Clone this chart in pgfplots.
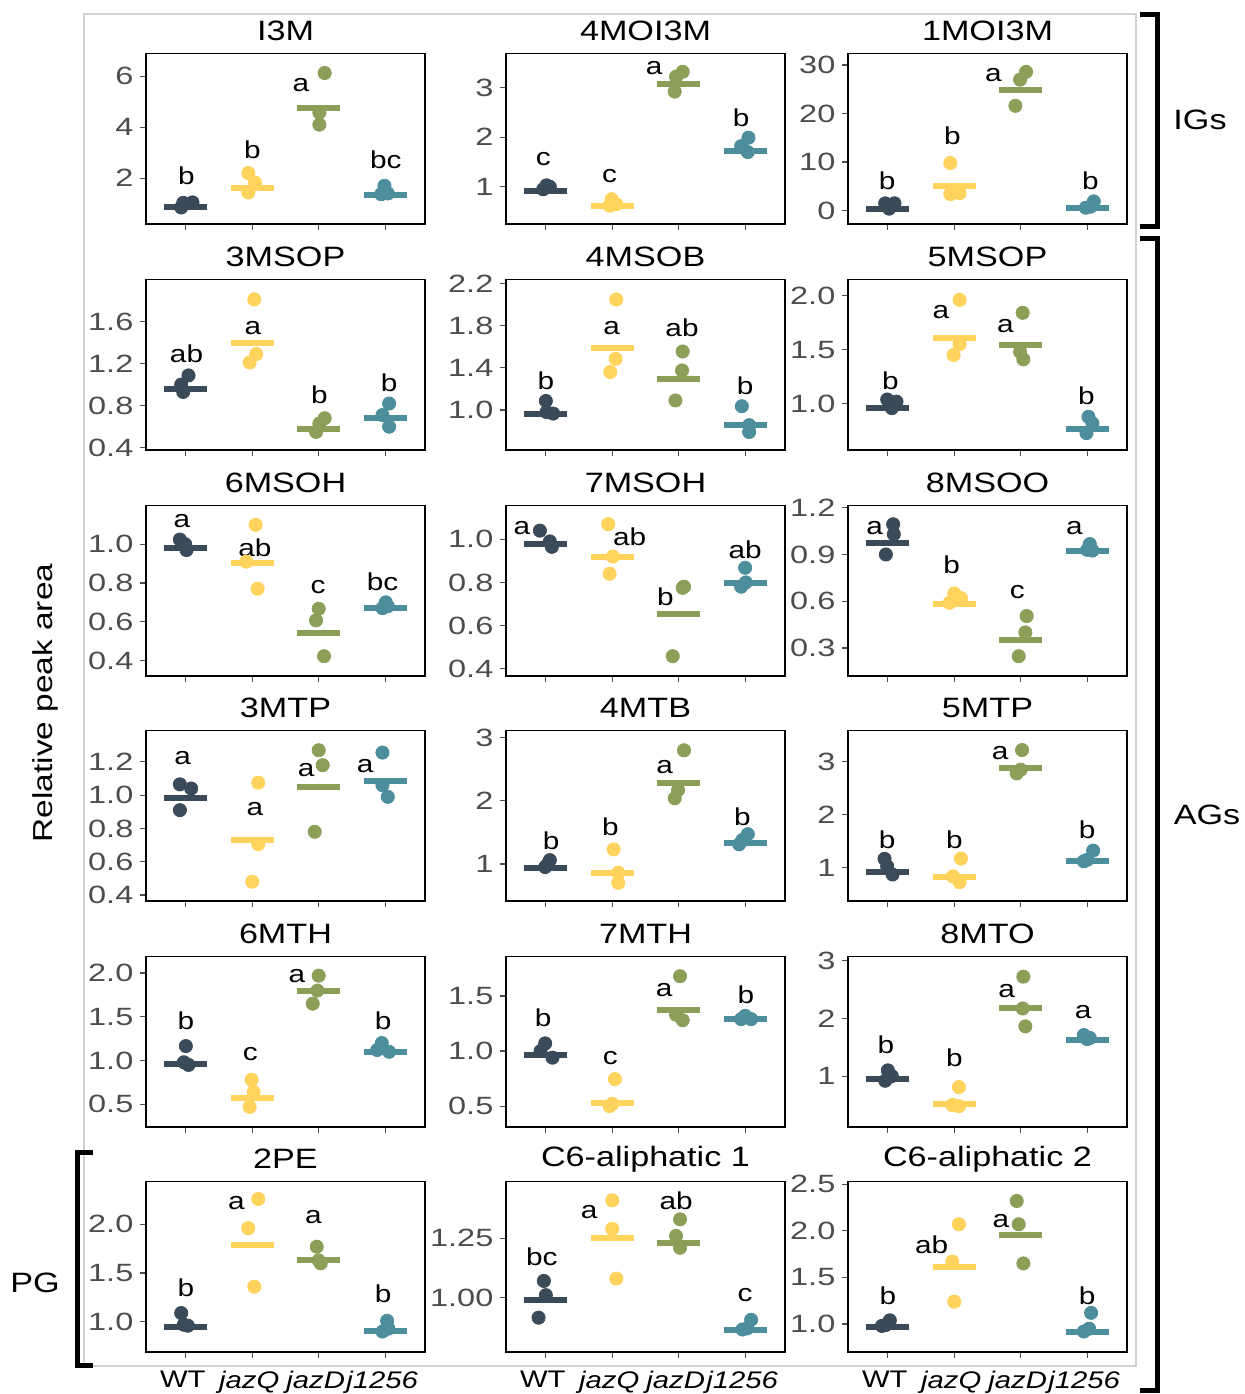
\documentclass[border=0pt]{standalone}
\usepackage{fontspec}
\setmainfont{Liberation Sans}[FakeStretch=1.22]
\newfontfamily\tickfont{Liberation Sans}[FakeStretch=1.3]
\usepackage{pgfplots}
\pgfplotsset{compat=1.18}
\definecolor{cWT}{HTML}{3A4A58}
\definecolor{cQ}{HTML}{FFD35C}
\definecolor{cD}{HTML}{8C9F58}
\definecolor{cJ}{HTML}{4D8E9C}
\definecolor{tickgray}{HTML}{4D4D4D}
\definecolor{framegray}{HTML}{D2D2D2}

\newcommand{\grp}[7]{%
  \addplot[only marks, mark=*, mark size=3.3pt, color=#1] coordinates {#3};
  \addplot[only marks, mark=-, mark size=10.7pt, color=#1, mark options={line width=3pt}] coordinates {(#2,#4)};
  \node[font=\fontsize{12.2}{12.2}\selectfont, inner sep=0pt] at (axis cs:#5,#6) {#7};
}

\pgfplotsset{
  panel/.style={
    scale only axis, width=139.5pt, height=85.3pt, anchor=south west,
    xmin=0.4, xmax=4.6, xtick={1,2,3,4}, xticklabels={,,,},
    axis line style={line width=0.8pt, black},
    tick align=outside, tick pos=left,
    major tick length=2.8pt,
    every tick/.style={line width=0.6pt, tickgray},
    yticklabel style={font=\tickfont\fontsize{12.5}{12.5}\selectfont, text=tickgray},
    /pgf/number format/assume math mode=true,
    clip=false,
    title style={font=\fontsize{14}{14}\selectfont, at={(0.5,1)}, anchor=center, yshift=5.3pt, fill=white, inner xsep=6pt, inner ysep=1pt},
  },
  d1/.style={yticklabel style={/pgf/number format/fixed, /pgf/number format/fixed zerofill, /pgf/number format/precision=1}},
  d2/.style={yticklabel style={/pgf/number format/fixed, /pgf/number format/fixed zerofill, /pgf/number format/precision=2}},
  bottomrow/.style={xticklabels={WT,\textit{jazQ},\textit{jazD},\textit{j1256}}, xticklabel style={font=\fontsize{12}{12}\selectfont, text=black, yshift=-3pt, xshift=-1.5pt}},
}

\begin{document}
\begin{tikzpicture}
\useasboundingbox (0pt,0pt) rectangle (622pt,-697pt);
\draw[framegray, line width=0.6pt] (42pt,-7pt) rectangle (568pt,-683pt);

% ---------- Row 1 ----------
\begin{axis}[panel, at={(73pt,-112pt)}, ymin=0.2, ymax=6.9, ytick={2,4,6}, title={I3M}]
\grp{cWT}{1}{(0.93,0.85)(0.96,1.03)(1.1,1.05)}{0.87}{1.01}{2.09}{b}
\grp{cQ}{2}{(1.94,2.2)(2.04,1.83)(1.94,1.44)}{1.63}{2.0}{3.13}{b}
\grp{cD}{3}{(3.09,6.13)(3.01,4.57)(3.01,4.1)}{4.76}{2.73}{5.67}{a}
\grp{cJ}{4}{(3.99,1.7)(3.94,1.37)(4.04,1.4)}{1.33}{4.01}{2.74}{bc}
\end{axis}

\begin{axis}[panel, at={(253pt,-112pt)}, ymin=0.25, ymax=3.69, ytick={1,2,3}, title={4MOI3M}]
\grp{cWT}{1}{(1.01,1.03)(1.06,1.0)(0.96,0.95)}{0.92}{0.96}{1.55}{c}
\grp{cQ}{2}{(1.99,0.75)(2.06,0.65)(1.96,0.62)}{0.61}{1.96}{1.22}{c}
\grp{cD}{3}{(3.06,3.32)(2.96,3.22)(2.94,2.92)}{3.07}{2.63}{3.39}{a}
\grp{cJ}{4}{(4.05,1.99)(3.94,1.82)(4.04,1.7)}{1.73}{3.94}{2.39}{b}
\end{axis}

\begin{axis}[panel, at={(424pt,-112pt)}, ymin=-2.76, ymax=32.4, ytick={0,10,20,30}, title={1MOI3M}]
\grp{cWT}{1}{(0.96,1.5)(1.1,1.5)(1.02,0.4)}{0.3}{0.99}{6.2}{b}
\grp{cQ}{2}{(1.94,9.8)(1.94,3.4)(2.08,3.6)}{5.0}{1.97}{15.5}{b}
\grp{cD}{3}{(3.08,28.6)(2.99,27.0)(2.92,21.6)}{24.8}{2.59}{27.9}{a}
\grp{cJ}{4}{(4.1,1.9)(4.05,0.8)(3.98,0.6)}{0.55}{4.05}{6.2}{b}
\end{axis}

% ---------- Row 2 ----------
\begin{axis}[panel, d1, at={(73pt,-225pt)}, ymin=0.378, ymax=2.0, ytick={0.4,0.8,1.2,1.6}, title={3MSOP}]
\grp{cWT}{1}{(1.04,1.087)(0.93,1.0)(0.96,0.93)}{0.96}{1.01}{1.29}{ab}
\grp{cQ}{2}{(2.03,1.81)(2.06,1.29)(1.96,1.21)}{1.395}{2.01}{1.54}{a}
\grp{cD}{3}{(3.09,0.68)(3.01,0.63)(2.96,0.55)}{0.58}{3.01}{0.90}{b}
\grp{cJ}{4}{(4.06,0.82)(3.96,0.71)(4.06,0.60)}{0.68}{4.06}{1.02}{b}
\end{axis}

\begin{axis}[panel, d1, at={(253pt,-225pt)}, ymin=0.619, ymax=2.24, ytick={1.0,1.4,1.8,2.2}, title={4MSOB}]
\grp{cWT}{1}{(1.0,1.085)(1.11,0.965)(1.01,0.98)}{0.96}{1.0}{1.28}{b}
\grp{cQ}{2}{(2.06,2.05)(2.05,1.485)(1.97,1.36)}{1.59}{1.99}{1.78}{a}
\grp{cD}{3}{(3.06,1.555)(3.05,1.375)(2.95,1.09)}{1.29}{3.05}{1.78}{ab}
\grp{cJ}{4}{(3.95,1.035)(4.06,0.855)(4.06,0.79)}{0.855}{4.0}{1.23}{b}
\end{axis}

\begin{axis}[panel, d1, at={(424pt,-225pt)}, ymin=0.574, ymax=2.148, ytick={1.0,1.5,2.0}, title={5MSOP}]
\grp{cWT}{1}{(0.99,1.04)(1.13,1.02)(1.06,0.96)}{0.96}{1.04}{1.21}{b}
\grp{cQ}{2}{(2.08,1.96)(2.08,1.55)(1.99,1.45)}{1.61}{1.8}{1.85}{a}
\grp{cD}{3}{(3.03,1.84)(2.99,1.48)(3.04,1.41)}{1.54}{2.77}{1.72}{a}
\grp{cJ}{4}{(4.02,0.88)(4.08,0.82)(3.99,0.73)}{0.77}{3.99}{1.07}{b}
\end{axis}

% ---------- Row 3 ----------
\begin{axis}[panel, d1, at={(73pt,-338pt)}, ymin=0.32, ymax=1.2, ytick={0.4,0.6,0.8,1.0}, title={6MSOH}]
\grp{cWT}{1}{(0.91,1.024)(0.99,1.0)(1.01,0.97)}{0.98}{0.94}{1.12}{a}
\grp{cQ}{2}{(2.05,1.10)(1.91,0.91)(2.08,0.77)}{0.905}{2.04}{0.98}{ab}
\grp{cD}{3}{(3.0,0.667)(2.96,0.607)(3.08,0.422)}{0.542}{2.99}{0.78}{c}
\grp{cJ}{4}{(4.01,0.70)(3.96,0.67)(4.04,0.68)}{0.67}{3.96}{0.807}{bc}
\end{axis}

\begin{axis}[panel, d1, at={(253pt,-338pt)}, ymin=0.366, ymax=1.157, ytick={0.4,0.6,0.8,1.0}, title={7MSOH}]
\grp{cWT}{1}{(0.91,1.04)(1.09,0.965)(1.06,0.99)}{0.98}{0.64}{1.05}{a}
\grp{cQ}{2}{(1.94,1.07)(2.01,0.92)(1.96,0.84)}{0.92}{2.26}{1.01}{ab}
\grp{cD}{3}{(3.08,0.78)(3.06,0.775)(2.91,0.458)}{0.655}{2.8}{0.735}{b}
\grp{cJ}{4}{(4.0,0.868)(3.94,0.78)(4.01,0.80)}{0.796}{4.0}{0.95}{ab}
\end{axis}

\begin{axis}[panel, d1, at={(424pt,-338pt)}, ymin=0.12, ymax=1.215, ytick={0.3,0.6,0.9,1.2}, title={8MSOO}]
\grp{cWT}{1}{(1.08,1.094)(1.09,1.03)(0.97,0.90)}{0.975}{0.8}{1.07}{a}
\grp{cQ}{2}{(2.0,0.65)(2.1,0.62)(1.93,0.59)}{0.585}{1.96}{0.835}{b}
\grp{cD}{3}{(3.09,0.505)(3.07,0.40)(2.97,0.247)}{0.35}{2.95}{0.66}{c}
\grp{cJ}{4}{(4.04,0.967)(4.08,0.925)(4.0,0.93)}{0.92}{3.81}{1.07}{a}
\end{axis}

% ---------- Row 4 ----------
\begin{axis}[panel, d1, at={(73pt,-450.5pt)}, ymin=0.364, ymax=1.389, ytick={0.4,0.6,0.8,1.0,1.2}, title={3MTP}]
\grp{cWT}{1}{(0.91,1.065)(1.08,1.04)(0.91,0.91)}{0.98}{0.95}{1.22}{a}
\grp{cQ}{2}{(2.09,1.075)(2.09,0.706)(2.0,0.48)}{0.73}{2.04}{0.917}{a}
\grp{cD}{3}{(3.0,1.27)(3.06,1.18)(2.94,0.78)}{1.05}{2.81}{1.15}{a}
\grp{cJ}{4}{(3.96,1.256)(3.96,1.06)(4.04,0.99)}{1.085}{3.7}{1.176}{a}
\end{axis}

\begin{axis}[panel, at={(253pt,-450.5pt)}, ymin=0.412, ymax=3.115, ytick={1,2,3}, title={4MTB}]
\grp{cWT}{1}{(1.06,1.06)(0.99,0.95)(1.03,1.0)}{0.94}{1.08}{1.36}{b}
\grp{cQ}{2}{(2.02,1.23)(2.09,0.86)(2.09,0.70)}{0.85}{1.97}{1.59}{b}
\grp{cD}{3}{(3.08,2.80)(2.99,2.17)(2.94,2.04)}{2.275}{2.79}{2.54}{a}
\grp{cJ}{4}{(4.04,1.47)(3.91,1.31)(3.96,1.38)}{1.33}{3.96}{1.75}{b}
\end{axis}

\begin{axis}[panel, at={(424pt,-450.5pt)}, ymin=0.375, ymax=3.59, ytick={1,2,3}, title={5MTP}]
\grp{cWT}{1}{(0.95,1.17)(0.99,1.03)(1.07,0.875)}{0.92}{0.99}{1.53}{b}
\grp{cQ}{2}{(2.1,1.175)(1.98,0.84)(2.08,0.73)}{0.825}{2.0}{1.53}{b}
\grp{cD}{3}{(3.02,3.22)(2.94,2.78)(3.0,2.85)}{2.875}{2.69}{3.16}{a}
\grp{cJ}{4}{(4.09,1.325)(3.95,1.125)(4.0,1.15)}{1.125}{4.0}{1.72}{b}
\end{axis}

% ---------- Row 5 ----------
\begin{axis}[panel, d1, at={(73pt,-563.5pt)}, ymin=0.24, ymax=2.19, ytick={0.5,1.0,1.5,2.0}, title={6MTH}]
\grp{cWT}{1}{(1.0,1.165)(0.97,0.98)(1.04,0.95)}{0.96}{1.0}{1.45}{b}
\grp{cQ}{2}{(1.99,0.78)(2.02,0.64)(1.96,0.47)}{0.57}{1.97}{1.07}{c}
\grp{cD}{3}{(3.0,1.97)(2.91,1.65)(2.98,1.8)}{1.79}{2.67}{1.97}{a}
\grp{cJ}{4}{(3.95,1.2)(4.06,1.1)(3.88,1.12)}{1.1}{3.97}{1.45}{b}
\end{axis}

\begin{axis}[panel, d1, at={(253pt,-563.5pt)}, ymin=0.31, ymax=1.86, ytick={0.5,1.0,1.5}, title={7MTH}]
\grp{cWT}{1}{(0.99,1.07)(1.1,0.94)(0.92,1.0)}{0.96}{0.96}{1.3}{b}
\grp{cQ}{2}{(2.04,0.745)(2.0,0.52)(1.96,0.5)}{0.53}{1.97}{0.94}{c}
\grp{cD}{3}{(3.02,1.68)(3.06,1.28)(2.96,1.33)}{1.37}{2.78}{1.55}{a}
\grp{cJ}{4}{(4.0,1.32)(3.94,1.29)(4.09,1.29)}{1.29}{4.01}{1.51}{b}
\end{axis}

\begin{axis}[panel, at={(424pt,-563.5pt)}, ymin=0.12, ymax=3.07, ytick={1,2,3}, title={8MTO}]
\grp{cWT}{1}{(1.0,1.1)(1.06,1.0)(0.96,0.92)}{0.95}{0.97}{1.55}{b}
\grp{cQ}{2}{(2.07,0.81)(1.97,0.5)(2.07,0.48)}{0.52}{2.0}{1.31}{b}
\grp{cD}{3}{(3.04,2.72)(3.03,2.17)(3.07,1.86)}{2.17}{2.79}{2.47}{a}
\grp{cJ}{4}{(3.95,1.71)(4.04,1.66)(4.0,1.64)}{1.62}{3.94}{2.1}{a}
\end{axis}

% ---------- Row 6 ----------
\begin{axis}[panel, d1, bottomrow, at={(73pt,-676pt)}, ymin=0.69, ymax=2.44, ytick={1.0,1.5,2.0}, title={2PE}]
\grp{cWT}{1}{(0.93,1.09)(1.03,0.96)(0.97,0.97)}{0.95}{1.0}{1.35}{b}
\grp{cQ}{2}{(2.09,2.26)(1.94,1.96)(2.03,1.36)}{1.79}{1.76}{2.22}{a}
\grp{cD}{3}{(2.97,1.77)(3.0,1.63)(3.03,1.6)}{1.63}{2.92}{2.07}{a}
\grp{cJ}{4}{(4.03,1.01)(3.96,0.9)(4.05,0.93)}{0.91}{3.97}{1.29}{b}
\end{axis}

\begin{axis}[panel, d2, bottomrow, at={(253pt,-676pt)}, ymin=0.77, ymax=1.49, ytick={1.00,1.25}, title={C6-aliphatic 1}]
\grp{cWT}{1}{(0.97,1.07)(1.0,1.01)(0.89,0.915)}{0.99}{0.94}{1.17}{bc}
\grp{cQ}{2}{(2.0,1.41)(2.0,1.29)(2.06,1.08)}{1.25}{1.65}{1.36}{a}
\grp{cD}{3}{(3.02,1.33)(2.96,1.26)(3.02,1.21)}{1.23}{2.96}{1.41}{ab}
\grp{cJ}{4}{(4.09,0.906)(3.96,0.865)(4.03,0.87)}{0.865}{4.0}{1.01}{c}
\end{axis}

\begin{axis}[panel, d1, bottomrow, at={(424pt,-676pt)}, ymin=0.70, ymax=2.53, ytick={1.0,1.5,2.0,2.5}, title={C6-aliphatic 2}]
\grp{cWT}{1}{(1.03,1.04)(0.91,0.98)(0.97,0.99)}{0.97}{1.0}{1.3}{b}
\grp{cQ}{2}{(2.07,2.07)(1.97,1.67)(2.0,1.24)}{1.61}{1.66}{1.85}{ab}
\grp{cD}{3}{(2.94,2.32)(2.97,2.07)(3.04,1.65)}{1.96}{2.7}{2.11}{a}
\grp{cJ}{4}{(4.06,1.12)(3.95,0.92)(4.03,0.95)}{0.91}{4.0}{1.3}{b}
\end{axis}

% ---------- annotations ----------
\node[rotate=90, font=\fontsize{13.7}{13.7}\selectfont] at (22.5pt,-351.5pt) {Relative peak area};
\draw[line width=2.5pt, black] (570pt,-7pt) -- (578.5pt,-7pt) -- (578.5pt,-113pt) -- (570pt,-113pt);
\draw[line width=2.5pt, black] (570pt,-119pt) -- (578.5pt,-119pt) -- (578.5pt,-695pt) -- (570pt,-695pt);
\draw[line width=2.5pt, black] (46.5pt,-576pt) -- (38.5pt,-576pt) -- (38.5pt,-682.5pt) -- (46.5pt,-682.5pt);
\node[font=\fontsize{14}{14}\selectfont] at (600pt,-60pt) {IGs};
\node[font=\fontsize{14}{14}\selectfont] at (603.5pt,-407.5pt) {AGs};
\node[font=\fontsize{14}{14}\selectfont] at (17.5pt,-641.5pt) {PG};
\end{tikzpicture}
\end{document}
